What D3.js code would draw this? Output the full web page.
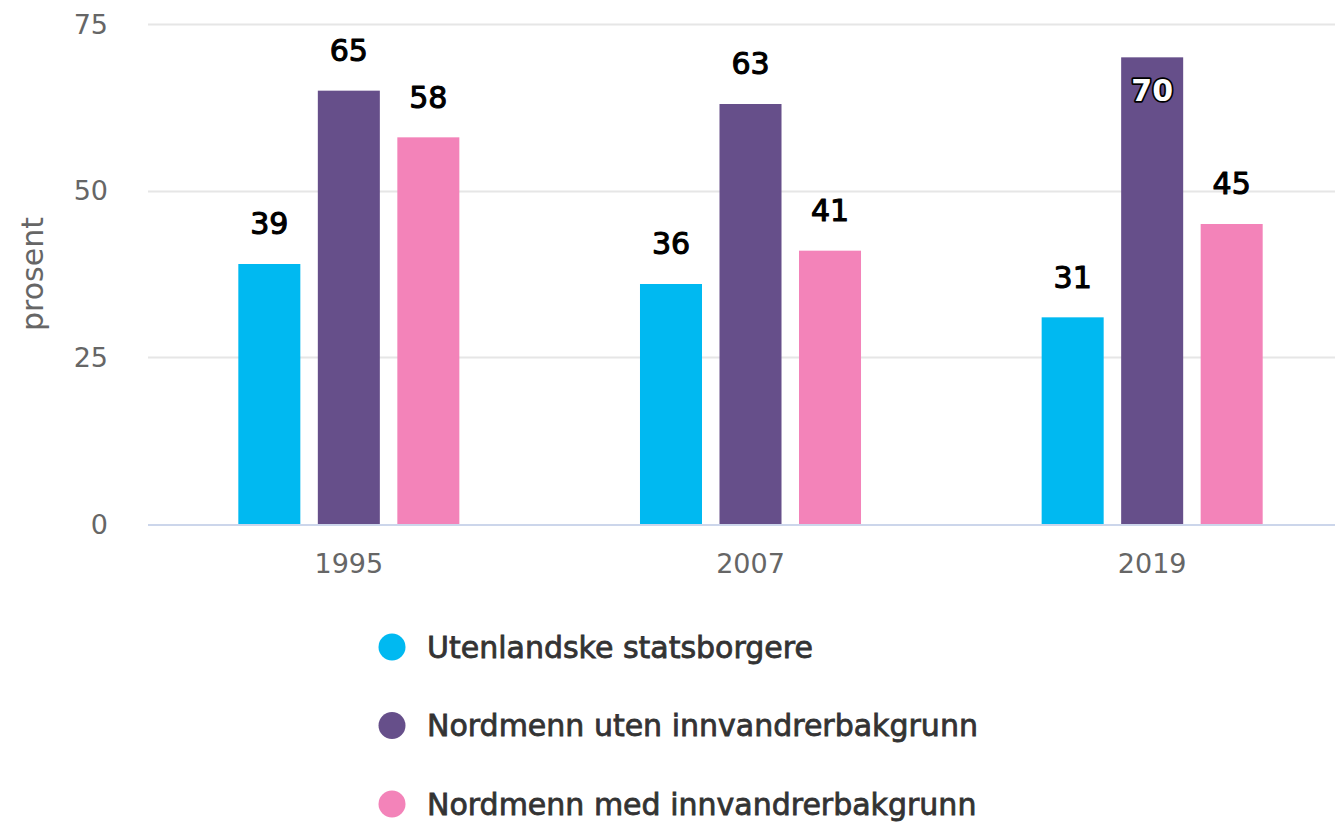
<!DOCTYPE html>
<html>
<head>
<meta charset="utf-8">
<script src="https://cdn.jsdelivr.net/npm/d3@7"></script>
<style>
  body { margin: 0; background: #fff; }
  svg { display: block; font-family: "DejaVu Sans", sans-serif; }
</style>
</head>
<body>
<svg width="1335" height="822"></svg>
<script>
const years = ["1995", "2007", "2019"];
const seriesNames = ["Utenlandske statsborgere", "Nordmenn uten innvandrerbakgrunn", "Nordmenn med innvandrerbakgrunn"];
const utenlandske = [39, 36, 31];
const utenBakgrunn = [65, 63, 70];
const medBakgrunn = [58, 41, 45];
const yTicks = [0, 25, 50, 75];
const colors = ["#00b9f1", "#664f8a", "#f383b9"];

const svg = d3.select("svg");
const width = +svg.attr("width");

const plotLeft = 148, plotRight = 1353, plotTop = 24, plotBottom = 524;

const series = [utenlandske, utenBakgrunn, medBakgrunn];
const data = [];
years.forEach((yr, i) => {
  series.forEach((s, j) => data.push({ year: yr, series: j, value: s[i] }));
});

const x = d3.scaleBand()
  .domain(years)
  .range([plotLeft, plotRight]);

const xInner = d3.scaleBand()
  .domain(d3.range(series.length))
  .range([0, x.bandwidth()])
  .paddingInner(0.22)
  .paddingOuter(1.136);

const y = d3.scaleLinear()
  .domain([0, 75])
  .range([plotBottom, plotTop]);

// gridlines
svg.append("g")
  .selectAll("line")
  .data(yTicks.filter(d => d > 0))
  .join("line")
  .attr("x1", plotLeft)
  .attr("x2", width)
  .attr("y1", d => Math.round(y(d)) + 0.5)
  .attr("y2", d => Math.round(y(d)) + 0.5)
  .attr("stroke", "#e6e6e6")
  .attr("stroke-width", 2);

// y tick labels
svg.append("g")
  .selectAll("text")
  .data(yTicks)
  .join("text")
  .attr("x", 108)
  .attr("y", d => y(d))
  .attr("dy", "0.36em")
  .attr("text-anchor", "end")
  .style("font-size", "27px")
  .style("fill", "#666")
  .text(d => d);

// y axis title
svg.append("text")
  .attr("transform", `translate(43,${(plotTop + plotBottom) / 2}) rotate(-90)`)
  .attr("text-anchor", "middle")
  .style("font-size", "30px")
  .style("fill", "#666")
  .text("prosent");

// bars
svg.append("g")
  .selectAll("rect")
  .data(data)
  .join("rect")
  .attr("x", d => x(d.year) + xInner(d.series))
  .attr("y", d => y(d.value))
  .attr("width", xInner.bandwidth())
  .attr("height", d => y(0) - y(d.value))
  .attr("fill", d => colors[d.series]);

// baseline
svg.append("line")
  .attr("x1", plotLeft)
  .attr("x2", width)
  .attr("y1", plotBottom + 1)
  .attr("y2", plotBottom + 1)
  .attr("stroke", "#ccd6eb")
  .attr("stroke-width", 2);

// x labels
svg.append("g")
  .selectAll("text")
  .data(years)
  .join("text")
  .attr("x", d => x(d) + x.bandwidth() / 2)
  .attr("y", 573)
  .attr("text-anchor", "middle")
  .style("font-size", "27px")
  .style("fill", "#666")
  .text(d => d);

// data labels
const inside = d => y(d.value) - 41 < plotTop + 20;
svg.append("g")
  .selectAll("text")
  .data(data)
  .join("text")
  .attr("x", d => x(d.year) + xInner(d.series) + xInner.bandwidth() / 2)
  .attr("y", d => inside(d) ? y(d.value) + 33 : y(d.value) - 40.5)
  .attr("dy", "0.36em")
  .attr("text-anchor", "middle")
  .style("font-size", "30px")
  .style("font-weight", d => inside(d) ? "bold" : "normal")
  .style("fill", d => inside(d) ? "#fff" : "#000")
  .style("stroke", "#000")
  .style("stroke-width", d => inside(d) ? 3.5 : 1.1)
  .style("paint-order", "stroke")
  .style("stroke-linejoin", "round")
  .text(d => d.value);

// legend
const legend = svg.append("g")
  .selectAll("g")
  .data(seriesNames)
  .join("g")
  .attr("transform", (d, i) => `translate(392,${647 + i * 78.5})`);

legend.append("circle")
  .attr("r", 13.5)
  .attr("fill", (d, i) => colors[i]);

legend.append("text")
  .attr("x", 35)
  .attr("dy", "0.36em")
  .style("font-size", "30px")
  .style("fill", "#333")
  .style("stroke", "#333")
  .style("stroke-width", 0.8)
  .text(d => d);
</script>
</body>
</html>
